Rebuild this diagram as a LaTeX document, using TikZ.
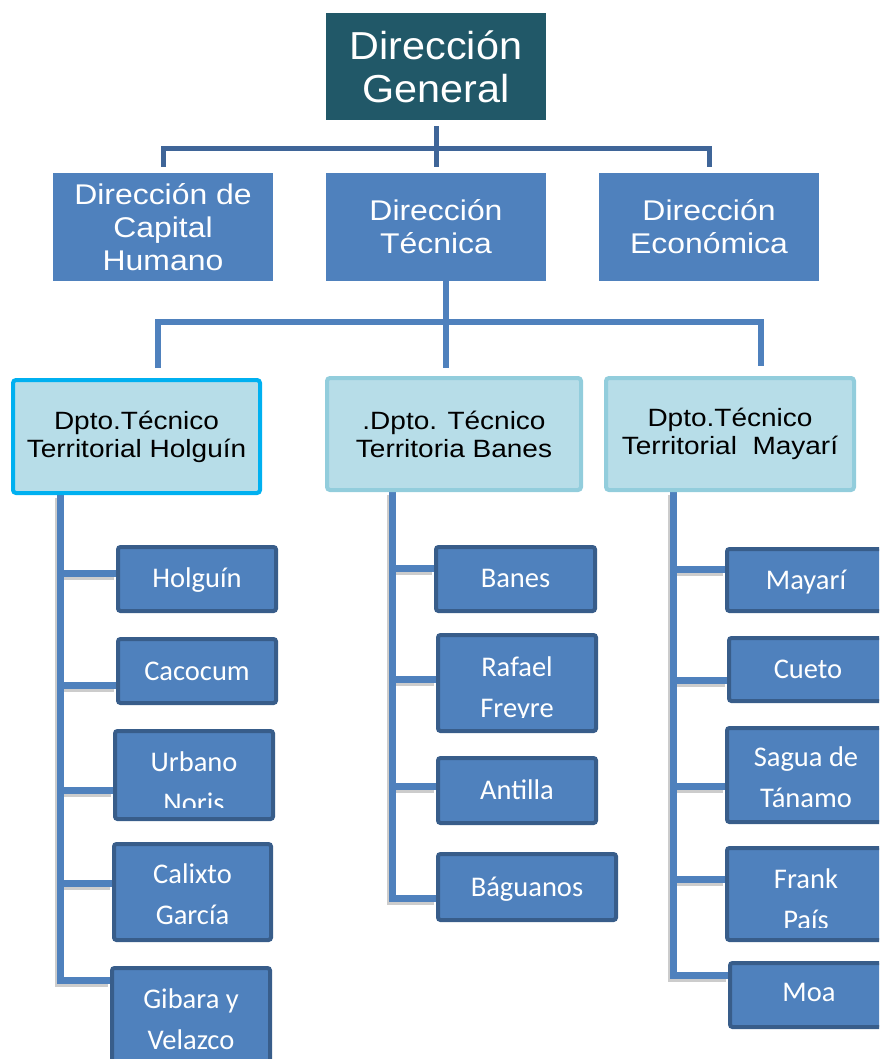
\documentclass[tikz,border=0pt]{standalone}
\usepackage{fontspec}
\setmainfont[FakeStretch=1.12]{Liberation Sans}
\newfontfamily\topfont[FakeStretch=1.06]{Liberation Sans}
\newfontfamily\calfont{Carlito}
\usetikzlibrary{backgrounds}
\definecolor{tealdark}{HTML}{215868}
\definecolor{midblue}{HTML}{4F81BD}
\definecolor{linkdark}{HTML}{3F6598}
\definecolor{paleblue}{HTML}{B7DDE8}
\definecolor{cyanedge}{HTML}{00B0F0}
\definecolor{paleedge}{HTML}{92CDDC}
\definecolor{boxedge}{HTML}{385D8A}
\newcommand{\mytreelines}[1]{%
  \draw[#1] (dL.south -| lt1) |- (gib.west |- lt5);
  \draw[#1] (lt1) -- (lt1 -| hol.west);
  \draw[#1] (lt2) -- (lt2 -| cac.west);
  \draw[#1] (lt3) -- (lt3 -| urb.west);
  \draw[#1] (lt4) -- (lt4 -| cal.west);
  \draw[#1] (dM.south -| mt1) |- (bag.west |- mt4);
  \draw[#1] (mt1) -- (mt1 -| ban.west);
  \draw[#1] (mt2) -- (mt2 -| raf.west);
  \draw[#1] (mt3) -- (mt3 -| ant.west);
  \draw[#1] (dR.south -| rt1) |- (moa.west |- rt5);
  \draw[#1] (rt1) -- (rt1 -| may.west);
  \draw[#1] (rt2) -- (rt2 -| cue.west);
  \draw[#1] (rt3) -- (rt3 -| sag.west);
  \draw[#1] (rt4) -- (rt4 -| fra.west);
}
\begin{document}
\begin{tikzpicture}[x=1pt,y=-1pt,
  topbox/.style={fill=tealdark, text=white, inner sep=0, minimum width=220, minimum height=107, align=center, font=\topfont\fontsize{39}{43}\selectfont},
  lvtwo/.style={fill=midblue, text=white, inner sep=0, minimum width=220, minimum height=108, align=center, font=\fontsize{28.5}{33}\selectfont},
  lvthree/.style={fill=paleblue, draw=paleedge, line width=4, rounded corners=3, text=black, inner sep=0, align=center, font=\fontsize{25}{28}\selectfont},
  sbox/.style={fill=midblue, draw=boxedge, line width=4, rounded corners=2.5, inner sep=0},
  stext/.style={text=white, inner sep=0, anchor=base, align=center, font=\calfont\fontsize{28.5}{41}\selectfont},
  topline/.style={draw=linkdark, line width=5},
  secline/.style={draw=midblue, line width=6.5},
  tick/.style={draw=midblue, line width=7},
  tickshadow/.style={draw=black, opacity=0.2, line width=7}
]
\useasboundingbox (0,0) rectangle (879,1059);
\clip (0,0) rectangle (879,1059);

% level 1 and 2
\node[topbox] (dg) at (436,66.5) {Dirección\\General};
\node[lvtwo] (dch) at (163,227) {Dirección de\\Capital\\Humano};
\node[lvtwo] (dt) at (436,227) {Dirección\\Técnica};
\node[lvtwo] (de) at (709,227) {Dirección\\Económica};

% level 3
\node[lvthree, draw=cyanedge, minimum width=247, minimum height=113] (dL) at (136.5,436.5) {Dpto.Técnico\\Territorial Holguín};
\node[lvthree, minimum width=254, minimum height=112] (dM) at (454,434) {.Dpto. Técnico\\Territoria Banes};
\node[lvthree, minimum width=248, minimum height=112] (dR) at (730,434) {Dpto.Técnico\\Territorial\ \ Mayarí};

% left column boxes
\node[sbox, minimum width=158, minimum height=64] (hol) at (197,579) {};
\node[sbox, minimum width=158, minimum height=64] (cac) at (197,671) {};
\node[sbox, minimum width=158, minimum height=88] (urb) at (194,775) {};
\node[sbox, minimum width=157, minimum height=96] (cal) at (192.5,892) {};
\node[sbox, minimum width=158, minimum height=110] (gib) at (191,1023) {};
% middle column boxes
\node[sbox, minimum width=159, minimum height=64] (ban) at (515.5,579) {};
\node[sbox, minimum width=158, minimum height=96] (raf) at (517,683) {};
\node[sbox, minimum width=158, minimum height=65] (ant) at (517,790.5) {};
\node[sbox, minimum width=178, minimum height=66] (bag) at (527,887) {};
% right column boxes
\node[sbox, minimum width=158, minimum height=62] (may) at (806,580) {};
\node[sbox, minimum width=158, minimum height=63] (cue) at (808,669.5) {};
\node[sbox, minimum width=158, minimum height=94] (sag) at (806,775) {};
\node[sbox, minimum width=158, minimum height=92] (fra) at (806,894) {};
\node[sbox, minimum width=158, minimum height=64] (moa) at (809,995) {};

% texts of small boxes (anchor=base is the last line's baseline)
\node[stext] (tHol) at (197,587) {Holguín};
\node[stext] (tCac) at (197,680) {Cacocum};
\begin{scope}
  \clip (urb.north west) rectangle (urb.east |- 0,807);
  \node[stext] (tUrb) at (194,812) {Urbano\\Noris};
\end{scope}
\node[stext] (tCal) at (192.5,924) {Calixto\\García};
\node[stext] (tGib) at (191,1049) {Gibara y\\Velazco};
\node[stext] (tBan) at (515.5,587) {Banes};
\begin{scope}
  \clip (raf.north west) rectangle (raf.east |- 0,717);
  \node[stext] (tRaf) at (517,717) {Rafael\\Freyre};
\end{scope}
\node[stext] (tAnt) at (517,799) {Antilla};
\node[stext] (tBag) at (527,896) {Báguanos};
\node[stext] (tMay) at (806,589) {Mayarí};
\node[stext] (tCue) at (808,678) {Cueto};
\node[stext] (tSag) at (806,807) {Sagua de\\Tánamo};
\begin{scope}
  \clip (fra.north west) rectangle (fra.east |- 0,927);
  \node[stext] (tFra) at (806,929) {Frank\\País};
\end{scope}
\node[stext] (tMoa) at (809,1001) {Moa};

% connector coordinates
\coordinate (j1) at (436,149);
\coordinate (k1) at (446,322);
\coordinate (kl) at (158,322);
\coordinate (kr) at (761,322);
\coordinate (lt1) at (60,573);
\coordinate (lt2) at (60,685);
\coordinate (lt3) at (60,790);
\coordinate (lt4) at (60,883);
\coordinate (lt5) at (60,980);
\coordinate (mt1) at (392,568);
\coordinate (mt2) at (392,679);
\coordinate (mt3) at (392,786);
\coordinate (mt4) at (392,898);
\coordinate (rt1) at (673,569);
\coordinate (rt2) at (673,680);
\coordinate (rt3) at (673,786);
\coordinate (rt4) at (673,879);
\coordinate (rt5) at (673,975);

\begin{scope}[on background layer]
  \draw[topline, shorten <=6pt, shorten >=6pt] (dg.south) -- (dt.north);
  \draw[topline, shorten <=6pt, shorten >=6pt] (dch.north) -- (dch.north |- j1) -- (de.north |- j1) -- (de.north);
  \draw[secline, shorten >=8pt] (dt.south -| k1) -- (k1 |- dM.north);
  \draw[secline, shorten <=10pt, shorten >=10pt] (kl |- dL.north) -- (kl) -- (kr) -- (kr |- dR.north);
  \begin{scope}[transform canvas={shift={(-2,3)}}]
    \mytreelines{tickshadow}
  \end{scope}
  \mytreelines{tick}
\end{scope}
\end{tikzpicture}
\end{document}
